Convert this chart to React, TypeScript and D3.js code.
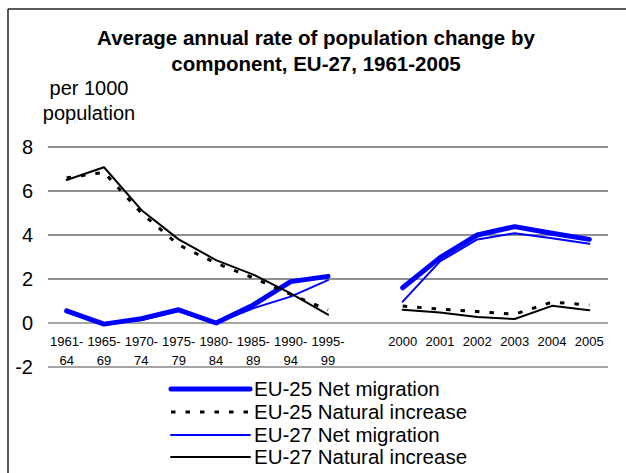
import React from "react";
import * as d3 from "d3";

const categories = ["1961-64","1965-69","1970-74","1975-79","1980-84","1985-89","1990-94","1995-99","","2000","2001","2002","2003","2004","2005"];
const yTicks = [-2, 0, 2, 4, 6, 8];

const eu25Net: (number | null)[] = [0.55, -0.05, 0.2, 0.6, 0.0, 0.82, 1.88, 2.12, null, 1.6, 2.97, 4.0, 4.38, 4.08, 3.8];
const eu25Nat: (number | null)[] = [6.6, 6.85, 5.0, 3.55, 2.72, 2.05, 1.3, 0.6, null, 0.77, 0.63, 0.52, 0.4, 0.95, 0.82];
const eu27Net: (number | null)[] = [0.5, -0.05, 0.12, 0.55, 0.0, 0.67, 1.2, 1.95, null, 0.97, 2.8, 3.8, 4.08, 3.85, 3.6];
const eu27Nat: (number | null)[] = [6.5, 7.08, 5.14, 3.8, 2.86, 2.2, 1.35, 0.38, null, 0.6, 0.48, 0.27, 0.18, 0.78, 0.58];

const legendLabels = ["EU-25 Net migration", "EU-25 Natural increase", "EU-27 Net migration", "EU-27 Natural increase"];

const FONT = "'Liberation Sans', Arial, sans-serif";
const DASH = "4.5,10";

export default function App() {
  const W = 626, H = 473;
  const x = d3.scaleBand<string>().domain(categories.map((c, i) => String(i))).range([48, 608]);
  const y = d3.scaleLinear().domain([-2, 8]).range([367, 147]);
  const cx = (i: number) => (x(String(i)) as number) + x.bandwidth() / 2;

  const line = d3.line<number | null>()
    .defined((d) => d !== null)
    .x((_, i) => cx(i))
    .y((d) => y(d as number));

  const series = [
    { data: eu25Net, stroke: "#0000ff", width: 5, dash: undefined as string | undefined },
    { data: eu27Net, stroke: "#0000ff", width: 2, dash: undefined },
    { data: eu25Nat, stroke: "#000", width: 3, dash: DASH },
    { data: eu27Nat, stroke: "#000", width: 2, dash: undefined },
  ];
  const legendStyles = [
    { stroke: "#0000ff", width: 5, dash: undefined as string | undefined },
    { stroke: "#000", width: 3, dash: DASH },
    { stroke: "#0000ff", width: 2, dash: undefined },
    { stroke: "#000", width: 2, dash: undefined },
  ];
  const legendY = [389, 412, 435, 457];

  return (
    <svg width={W} height={H} style={{ position: "absolute", left: 0, top: 0, background: "#fff" }} fontFamily={FONT}>
      <rect x={0} y={0} width={W} height={H} fill="#fff" />
      <line x1={8} x2={W} y1={9} y2={9} stroke="#222" strokeWidth={1.5} />
      <line x1={8} x2={8} y1={9} y2={H} stroke="#222" strokeWidth={1.5} />
      <text x={316} y={45} textAnchor="middle" fontWeight="bold" fontSize={20.5}>Average annual rate of population change by</text>
      <text x={316} y={71} textAnchor="middle" fontWeight="bold" fontSize={20.5}>component, EU-27, 1961-2005</text>
      <text x={89} y={95} textAnchor="middle" fontSize={20}>per 1000</text>
      <text x={89} y={120} textAnchor="middle" fontSize={20}>population</text>
      {yTicks.map((t) => (
        <g key={t}>
          <line x1={48} x2={608} y1={y(t)} y2={y(t)} stroke={t <= 0 ? "#888" : "#222"} strokeWidth={t <= 0 ? 1.5 : 1} />
          <text x={33} y={y(t)} dy="0.36em" textAnchor="end" fontSize={20}>{t}</text>
        </g>
      ))}
      {categories.map((c, i) => {
        const parts = c.includes("-") ? [c.split("-")[0] + "-", c.split("-")[1]] : [c];
        return (
          <text key={i} x={cx(i)} y={345.5} textAnchor="middle" fontSize={13}>
            {parts.map((p, j) => (
              <tspan key={j} x={cx(i)} dy={j === 0 ? 0 : 19}>{p}</tspan>
            ))}
          </text>
        );
      })}
      {series.map((s, k) => (
        <path key={k} d={line(s.data) || ""} fill="none" stroke={s.stroke} strokeWidth={s.width} strokeDasharray={s.dash} strokeLinejoin="round" strokeLinecap={s.dash ? "butt" : "round"} />
      ))}
      {legendLabels.map((l, k) => (
        <g key={l}>
          <line x1={171} x2={250} y1={legendY[k]} y2={legendY[k]} stroke={legendStyles[k].stroke} strokeWidth={legendStyles[k].width} strokeDasharray={legendStyles[k].dash} strokeLinecap={legendStyles[k].dash ? "butt" : "round"} />
          <text x={254} y={legendY[k]} dy="0.36em" fontSize={20.5}>{l}</text>
        </g>
      ))}
    </svg>
  );
}
